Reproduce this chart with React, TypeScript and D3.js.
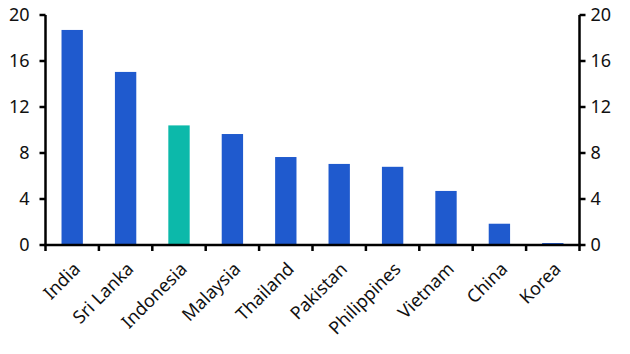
import React from "react";
import * as d3 from "d3";

const categories = ["India", "Sri Lanka", "Indonesia", "Malaysia", "Thailand", "Pakistan", "Philippines", "Vietnam", "China", "Korea"];
const values = [18.7, 15.05, 10.4, 9.65, 7.65, 7.05, 6.8, 4.7, 1.85, 0.17];
const highlight = ["Indonesia"];
const yTicks = [0, 4, 8, 12, 16, 20];

const W = 630, H = 354;
const left = 45.5, right = 579.5, top = 15, bottom = 245;

export default function App() {
  const x = d3.scaleBand<string>().domain(categories).range([left, right]).paddingInner(0.6).paddingOuter(0.3);
  const xb = d3.scaleBand<string>().domain(categories).range([left, right]);
  const y = d3.scaleLinear().domain([0, 20]).range([bottom, top]);
  const font = "'Noto Sans', 'Open Sans', sans-serif";
  return (
    <svg width={W} height={H} style={{ position: "absolute", left: 0, top: 0 }} fontFamily={font}>
      {categories.map((c, i) => (
        <rect key={c} x={x(c)} width={x.bandwidth()} y={y(values[i])} height={y(0) - y(values[i])}
          fill={highlight.includes(c) ? "#0cb9aa" : "#1f5ace"} />
      ))}
      <line x1={left} x2={left} y1={top} y2={bottom + 1} stroke="#000" strokeWidth={2.5} />
      <line x1={right} x2={right} y1={top} y2={bottom + 1} stroke="#000" strokeWidth={2.5} />
      <line x1={left - 1} x2={right + 1} y1={bottom} y2={bottom} stroke="#000" strokeWidth={2.5} />
      {yTicks.map(t => (
        <g key={t}>
          <line x1={left - 6} x2={left} y1={y(t)} y2={y(t)} stroke="#000" strokeWidth={2.5} />
          <line x1={right} x2={right + 6} y1={y(t)} y2={y(t)} stroke="#000" strokeWidth={2.5} />
          <text x={left - 16} y={y(t)} dy="0.36em" textAnchor="end" fontSize={18} fill="#111">{t}</text>
          <text x={right + 11} y={y(t)} dy="0.36em" textAnchor="start" fontSize={18} fill="#111">{t}</text>
        </g>
      ))}
      {[...categories.map(c => xb(c)!), right].map((v, i) => (
        <line key={i} x1={v} x2={v} y1={bottom} y2={bottom + 6} stroke="#000" strokeWidth={2.5} />
      ))}
      {categories.map(c => {
        const cx = x(c)! + x.bandwidth() / 2;
        const cy = bottom + 16;
        return (
          <text key={c} transform={`translate(${cx},${cy}) rotate(-45)`} textAnchor="end" dy="0.72em" fontSize={18} fill="#111">{c}</text>
        );
      })}
    </svg>
  );
}
